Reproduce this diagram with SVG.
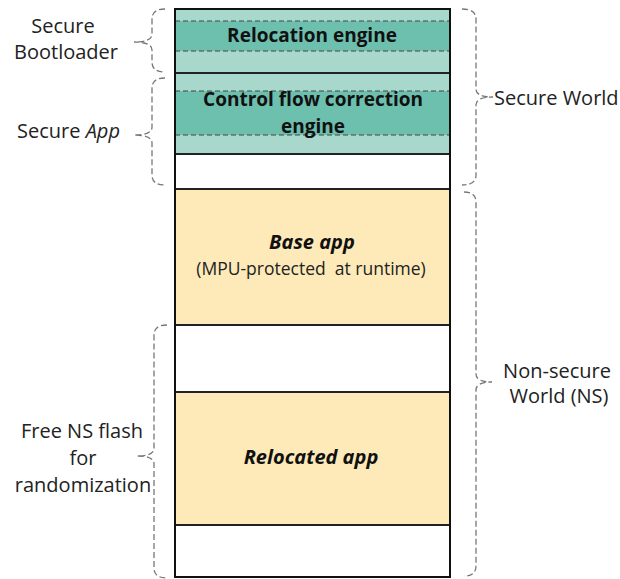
<svg xmlns="http://www.w3.org/2000/svg" width="620" height="579" viewBox="0 0 620 579">
  <style>
    .lbl { font-family: "Open Sans", "Noto Sans", sans-serif; font-size: 20px; fill: #222; }
    .in { font-family: "Open Sans", "Noto Sans", sans-serif; fill: #111; text-anchor: middle; }
    .b { font-weight: bold; font-size: 19px; }
    .bi { font-weight: bold; font-style: italic; font-size: 20px; }
    .sub { font-size: 17.5px; fill: #222; }
    .brace { fill: none; stroke: #777; stroke-width: 1.3; stroke-dasharray: 6 3; }
    .sep { stroke: #222; stroke-width: 1.8; }
    .dash { stroke: #444; stroke-width: 1; stroke-dasharray: 5 3; }
  </style>
  <rect width="620" height="579" fill="#fff"/>

  <!-- Memory column -->
  <g id="secure-bootloader">
    <rect x="175" y="9" width="275" height="64" fill="#a8d8cb"/>
    <rect x="175" y="21" width="275" height="30" fill="#6dbfae"/>
    <line class="dash" x1="175" y1="21" x2="450" y2="21"/>
    <line class="dash" x1="175" y1="51" x2="450" y2="51"/>
    <text class="in b" x="312" y="42">Relocation engine</text>
  </g>
  <g id="secure-app">
    <rect x="175" y="73" width="275" height="81" fill="#a8d8cb"/>
    <rect x="175" y="91" width="275" height="44" fill="#6dbfae"/>
    <line class="dash" x1="175" y1="91" x2="450" y2="91"/>
    <line class="dash" x1="175" y1="135" x2="450" y2="135"/>
    <text class="in b" x="313" y="106">Control flow correction</text>
    <text class="in b" x="313" y="133">engine</text>
  </g>
  <g id="secure-free">
    <rect x="175" y="154" width="275" height="35" fill="#fff"/>
  </g>
  <g id="base-app">
    <rect x="175" y="189" width="275" height="136" fill="#fdeab8"/>
    <text class="in bi" x="312" y="249">Base app</text>
    <text class="in sub" x="311" y="275">(MPU-protected&#160; at runtime)</text>
  </g>
  <g id="free-ns-1">
    <rect x="175" y="325" width="275" height="67" fill="#fff"/>
  </g>
  <g id="relocated-app">
    <rect x="175" y="392" width="275" height="133" fill="#fdeab8"/>
    <text class="in bi" x="311" y="464">Relocated app</text>
  </g>
  <g id="free-ns-2">
    <rect x="175" y="525" width="275" height="52" fill="#fff"/>
  </g>

  <!-- Region boundaries and outline -->
  <g id="outline">
    <line class="sep" x1="175" y1="73" x2="450" y2="73"/>
    <line class="sep" x1="175" y1="154" x2="450" y2="154"/>
    <line class="sep" x1="175" y1="189" x2="450" y2="189"/>
    <line class="sep" x1="175" y1="325" x2="450" y2="325"/>
    <line class="sep" x1="175" y1="392" x2="450" y2="392"/>
    <line class="sep" x1="175" y1="525" x2="450" y2="525"/>
    <rect x="175" y="9" width="275" height="568" fill="none" stroke="#111" stroke-width="2"/>
  </g>

  <!-- Braces -->
  <g id="connectors">
    <path class="brace" d="M165,9 Q152,9 152,19 L152,34 Q152,42 134,42 Q152,42 152,50 L152,62 Q152,72 165,72"/>
    <path class="brace" d="M165,78 Q152,78 152,88 L152,127 Q152,135 134,135 Q152,135 152,143 L152,175 Q152,185 165,185"/>
    <path class="brace" d="M167,325 Q154,325 154,335 L154,448 Q154,456 137,456 Q154,456 154,464 L154,568 Q154,578 167,578"/>
    <path class="brace" d="M462,9 Q476,9 476,19 L476,89 Q476,97 493,97 Q476,97 476,105 L476,175 Q476,185 462,185"/>
    <path class="brace" d="M464,192 Q476,192 476,202 L476,374 Q476,382 492,382 Q476,382 476,390 L476,566 Q476,576 464,576"/>
  </g>

  <!-- Labels -->
  <g id="labels">
    <text class="lbl" x="63" y="33" text-anchor="middle">Secure</text>
    <text class="lbl" x="66" y="59" text-anchor="middle">Bootloader</text>
    <text class="lbl" x="17" y="138">Secure <tspan font-style="italic">App</tspan></text>
    <text class="lbl" x="494" y="105">Secure World</text>
    <text class="lbl" x="557" y="378" text-anchor="middle">Non-secure</text>
    <text class="lbl" x="559" y="403" text-anchor="middle">World (NS)</text>
    <text class="lbl" x="82" y="438" text-anchor="middle">Free NS flash</text>
    <text class="lbl" x="83" y="465" text-anchor="middle">for</text>
    <text class="lbl" x="83" y="492" text-anchor="middle">randomization</text>
  </g>
</svg>
